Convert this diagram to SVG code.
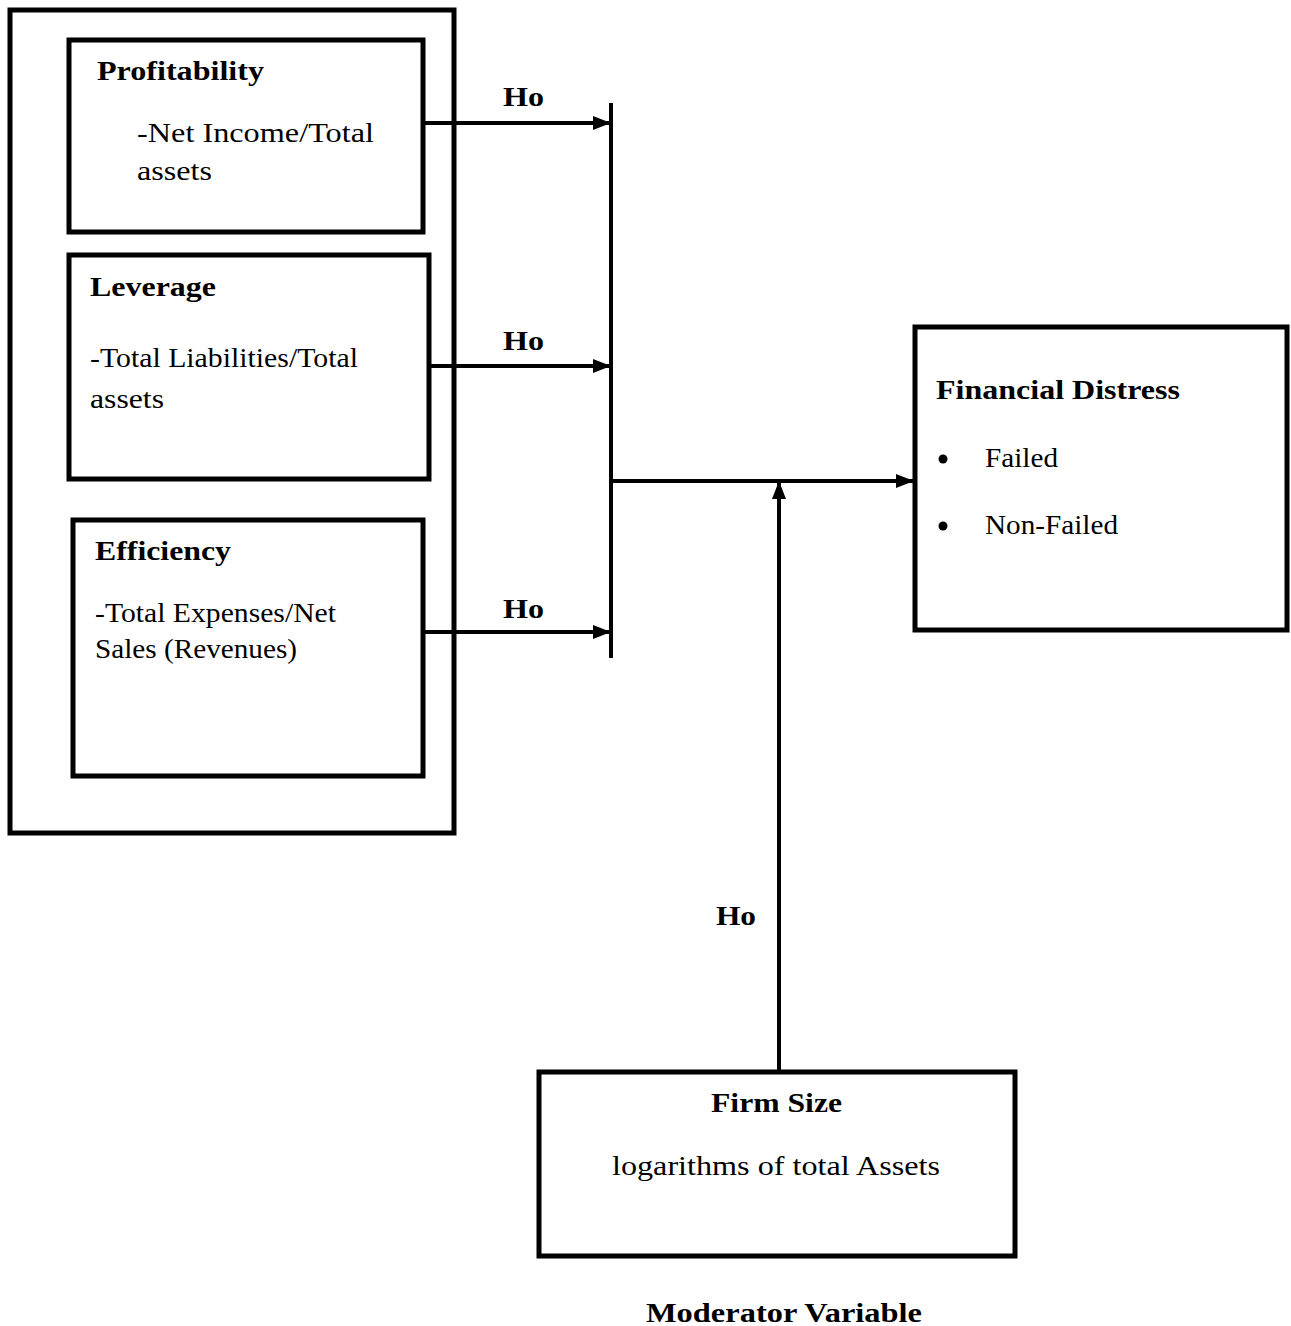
<svg xmlns="http://www.w3.org/2000/svg" width="1291" height="1326" viewBox="0 0 1291 1326">
<style>
.box{fill:none;stroke:#000;stroke-width:5}
.ln{fill:none;stroke:#000;stroke-width:4}
text{font-family:"Liberation Serif","Times New Roman",serif;font-size:27px;fill:#000}
.b{font-weight:bold}
.c{text-anchor:middle}
</style>
<defs>
<marker id="ah" markerUnits="userSpaceOnUse" markerWidth="20" markerHeight="16" refX="18" refY="7" orient="auto">
<path d="M0,0 L18,7 L0,14 Z" fill="#000"/>
</marker>
</defs>
<rect width="1291" height="1326" fill="#fff"/>
<g id="independent-group">
<rect class="box" x="10" y="10" width="444" height="823"/>
</g>
<g id="profitability">
<rect class="box" x="69" y="40" width="354" height="192"/>
<text class="b" x="97" y="80" textLength="167" lengthAdjust="spacingAndGlyphs">Profitability</text>
<text x="137" y="142" textLength="237" lengthAdjust="spacingAndGlyphs">-Net Income/Total</text>
<text x="137" y="180" textLength="75" lengthAdjust="spacingAndGlyphs">assets</text>
</g>
<g id="leverage">
<rect class="box" x="69" y="255" width="360" height="224"/>
<text class="b" x="90" y="296" textLength="126" lengthAdjust="spacingAndGlyphs">Leverage</text>
<text x="90" y="367" textLength="268" lengthAdjust="spacingAndGlyphs">-Total Liabilities/Total</text>
<text x="90" y="408" textLength="74" lengthAdjust="spacingAndGlyphs">assets</text>
</g>
<g id="efficiency">
<rect class="box" x="73" y="520" width="350" height="256"/>
<text class="b" x="95" y="560" textLength="136" lengthAdjust="spacingAndGlyphs">Efficiency</text>
<text x="95" y="622" textLength="241" lengthAdjust="spacingAndGlyphs">-Total Expenses/Net</text>
<text x="95" y="658" textLength="202" lengthAdjust="spacingAndGlyphs">Sales (Revenues)</text>
</g>
<g id="financial-distress">
<rect class="box" x="915" y="327" width="372" height="303"/>
<text class="b" x="936" y="399" textLength="244" lengthAdjust="spacingAndGlyphs">Financial Distress</text>
<circle cx="943" cy="459" r="4.5" fill="#000"/>
<text x="985" y="467" textLength="73" lengthAdjust="spacingAndGlyphs">Failed</text>
<circle cx="943" cy="526" r="4.5" fill="#000"/>
<text x="985" y="534" textLength="133" lengthAdjust="spacingAndGlyphs">Non-Failed</text>
</g>
<g id="firm-size">
<rect class="box" x="539" y="1072" width="476" height="184"/>
<text class="b" x="711" y="1112" textLength="131" lengthAdjust="spacingAndGlyphs">Firm Size</text>
<text x="612" y="1175" textLength="328" lengthAdjust="spacingAndGlyphs">logarithms of total Assets</text>
</g>
<g id="connectors">
<line class="ln" x1="611" y1="103" x2="611" y2="658"/>
<line class="ln" x1="423" y1="123" x2="611" y2="123" marker-end="url(#ah)"/>
<line class="ln" x1="429" y1="366" x2="611" y2="366" marker-end="url(#ah)"/>
<line class="ln" x1="423" y1="632" x2="611" y2="632" marker-end="url(#ah)"/>
<line class="ln" x1="611" y1="481" x2="914" y2="481" marker-end="url(#ah)"/>
<line class="ln" x1="779" y1="1070" x2="779" y2="481" marker-end="url(#ah)"/>
<text class="b" x="503" y="106" textLength="41" lengthAdjust="spacingAndGlyphs">Ho</text>
<text class="b" x="503" y="350" textLength="41" lengthAdjust="spacingAndGlyphs">Ho</text>
<text class="b" x="503" y="618" textLength="41" lengthAdjust="spacingAndGlyphs">Ho</text>
<text class="b" x="716" y="925" textLength="40" lengthAdjust="spacingAndGlyphs">Ho</text>
</g>
<text class="b" x="646" y="1322" textLength="276" lengthAdjust="spacingAndGlyphs">Moderator Variable</text>
</svg>
